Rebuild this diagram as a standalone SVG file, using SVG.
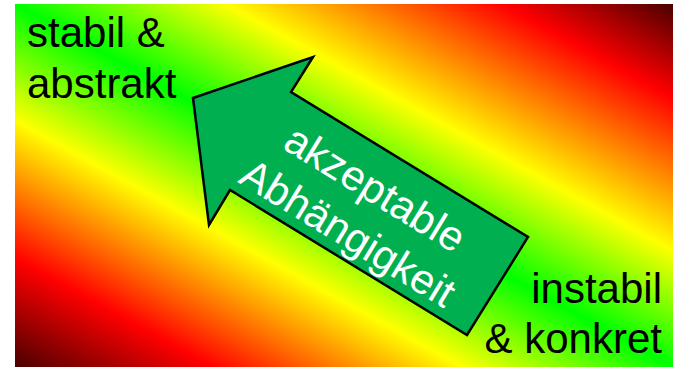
<svg xmlns="http://www.w3.org/2000/svg" width="673" height="367" viewBox="0 0 673 367">
  <style>
    .lbl { font-family: "Liberation Sans", Arial, sans-serif; font-size: 42px; fill: #000; }
    .arrowtxt { font-family: "Liberation Sans", Arial, sans-serif; font-size: 42px; fill: #fff; text-anchor: middle; }
  </style>
  <defs>
    <linearGradient id="bg" x1="0" y1="1" x2="1" y2="0">
      <stop offset="0" stop-color="#4a0000"/>
      <stop offset="0.15" stop-color="#ff0000"/>
      <stop offset="0.34" stop-color="#ffff00"/>
      <stop offset="0.5" stop-color="#00ff00"/>
      <stop offset="0.66" stop-color="#ffff00"/>
      <stop offset="0.87" stop-color="#ff0000"/>
      <stop offset="1" stop-color="#4a0000"/>
    </linearGradient>
  </defs>
  <rect id="background" x="15" y="4" width="658" height="363" fill="url(#bg)"/>
  <g id="stabil">
    <text class="lbl" x="27" y="47">stabil &amp;</text>
    <text class="lbl" x="27" y="98">abstrakt</text>
  </g>
  <g id="instabil">
    <text class="lbl" x="662" y="303" text-anchor="end">instabil</text>
    <text class="lbl" x="662" y="353" text-anchor="end">&amp; konkret</text>
  </g>
  <g id="arrow">
    <polygon points="193,98 313,57 291,92 528,237 467,335 230,190 209,225" fill="#00b050" stroke="#000" stroke-width="2.5" stroke-linejoin="miter"/>
    <g transform="translate(361,212) rotate(31.5)">
      <text class="arrowtxt" x="0" y="-13">akzeptable</text>
      <text class="arrowtxt" x="0" y="39">Abhängigkeit</text>
    </g>
  </g>
</svg>
